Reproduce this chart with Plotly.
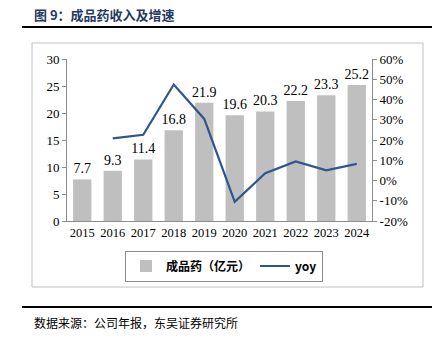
import plotly.graph_objects as go

years = ["2015", "2016", "2017", "2018", "2019", "2020", "2021", "2022", "2023", "2024"]
revenue = [7.7, 9.3, 11.4, 16.8, 21.9, 19.6, 20.3, 22.2, 23.3, 25.2]
yoy_years = ["2016", "2017", "2018", "2019", "2020", "2021", "2022", "2023", "2024"]
yoy = [20.8, 22.6, 47.4, 30.4, -10.5, 3.6, 9.4, 5.0, 8.2]
left_ticks = [0, 5, 10, 15, 20, 25, 30]
right_ticks = [-20, -10, 0, 10, 20, 30, 40, 50, 60]
right_labels = [f"{v}%" for v in right_ticks]

W, H = 445, 338
L, R, T, B = 67, 372, 59, 221

def px(x):
    return (x - L) / (R - L)

def py(y):
    return (B - y) / (B - T)

serif = "Liberation Serif, Times New Roman, serif"
cjk = "Noto Sans CJK SC"

fig = go.Figure()
fig.add_trace(go.Bar(
    x=years, y=revenue, name="<b>成品药（亿元）</b>",
    marker=dict(color="#BFBFBF", line=dict(width=0)),
    width=0.6,
    text=[f"{v:.1f}" for v in revenue], textposition="outside",
    constraintext="none", textangle=0,
    textfont=dict(family=serif, size=14, color="#000000"),
    cliponaxis=False,
))
fig.add_trace(go.Scatter(
    x=yoy_years, y=yoy, name="<b>yoy</b>", yaxis="y2", mode="lines",
    line=dict(color="#2F5590", width=2.2),
))

fig.update_layout(
    width=W, height=H,
    margin=dict(l=L, r=W - R, t=T, b=H - B),
    paper_bgcolor="white", plot_bgcolor="white",
    showlegend=True,
    bargap=0.4,
    xaxis=dict(
        type="category", showgrid=False, showline=True, linecolor="#8C8C8C", linewidth=1,
        ticks="", tickfont=dict(family=serif, size=12.5, color="#000"),
    ),
    yaxis=dict(
        range=[0, 30], tickvals=left_ticks, showgrid=False, showline=True,
        linecolor="#8C8C8C", linewidth=1, ticks="outside", ticklen=4, tickcolor="#8C8C8C",
        tickfont=dict(family=serif, size=13, color="#000"), zeroline=False,
    ),
    yaxis2=dict(
        range=[-20, 60], tickvals=right_ticks, ticktext=right_labels, overlaying="y",
        side="right", showgrid=False, showline=True, linecolor="#8C8C8C", linewidth=1,
        ticks="outside", ticklen=4, tickcolor="#8C8C8C",
        tickfont=dict(family=serif, size=13, color="#000"), zeroline=False,
    ),
    legend=dict(
        orientation="h", x=px(224), xanchor="center", y=py(266), yanchor="middle",
        bordercolor="#8C8C8C", borderwidth=1,
        font=dict(family=cjk, size=12, color="#000"),
        itemwidth=30,
    ),
)

shapes = [
    dict(type="line", xref="paper", yref="paper", x0=px(22), x1=px(432), y0=py(27), y1=py(27),
         line=dict(color="#000", width=2)),
    dict(type="rect", xref="paper", yref="paper", x0=px(32), x1=px(423), y0=py(287), y1=py(43),
         line=dict(color="#BFBFBF", width=1)),
    dict(type="line", xref="paper", yref="paper", x0=px(22), x1=px(432), y0=py(307), y1=py(307),
         line=dict(color="#000", width=2)),
]
fig.update_layout(shapes=shapes)

fig.add_annotation(
    text="<b>图 9：成品药收入及增速</b>", xref="paper", yref="paper",
    x=px(32), y=py(15), xanchor="left", yanchor="middle", showarrow=False,
    font=dict(family=cjk, size=13, color="#1F3A64"),
)
fig.add_annotation(
    text="数据来源：公司年报，东吴证券研究所", xref="paper", yref="paper",
    x=px(32), y=py(322), xanchor="left", yanchor="middle", showarrow=False,
    font=dict(family=cjk, size=12, color="#000"),
)

fig.write_html("out.html")
